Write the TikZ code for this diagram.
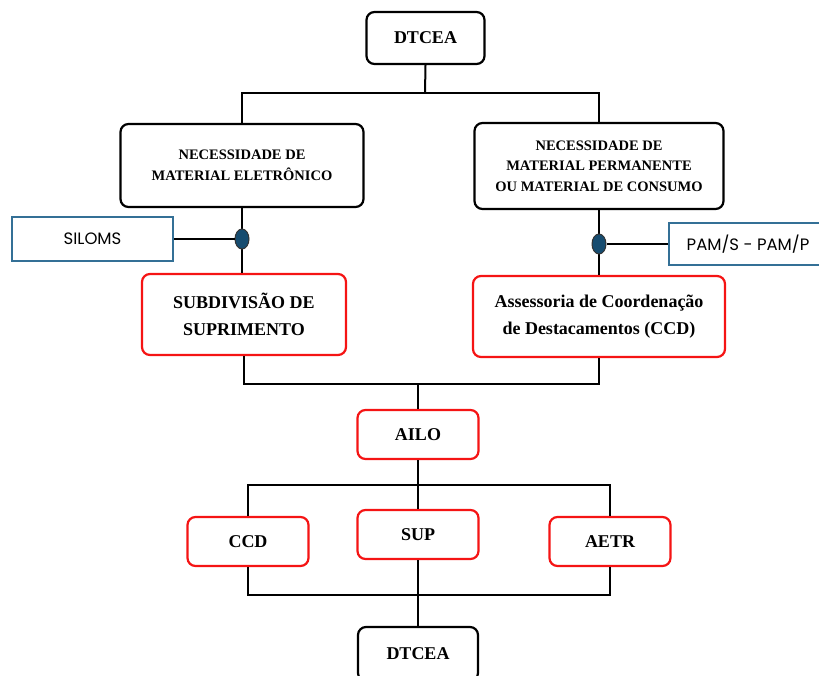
\documentclass[tikz,border=0pt]{standalone}
\usepackage{fontspec}
\setmainfont{Liberation Serif}
\newfontfamily\popfont{Poppins}
\usetikzlibrary{shapes.geometric}
\definecolor{boxred}{RGB}{245,20,20}
\definecolor{boxblue}{RGB}{52,112,150}
\definecolor{dotblue}{RGB}{22,76,112}
\tikzset{
  base/.style={rectangle, rounded corners=8pt, fill=white, inner sep=0pt, align=center, font=\bfseries},
  blackbox/.style={base, draw=black, line width=2.2pt},
  redbox/.style={base, draw=boxred, line width=2.2pt},
  bluebox/.style={rectangle, draw=boxblue, line width=2pt, fill=white, inner sep=0pt, font=\popfont\fontsize{16.5}{18}\selectfont},
  junction/.style={ellipse, draw=black!80, line width=1pt, fill=dotblue, minimum width=14pt, minimum height=20pt, inner sep=0pt},
  link/.style={draw=black, line width=2pt},
  small/.style={font=\bfseries\fontsize{14.5}{20.5}\selectfont},
  big/.style={font=\bfseries\fontsize{18}{27.5}\selectfont}
}
\begin{document}
\begin{tikzpicture}[x=1pt,y=-1pt]
\useasboundingbox (0,0) rectangle (819,675);
% nodes
\node[blackbox, big, minimum width=118pt, minimum height=52pt] (dt1) at (425.5,38) {DTCEA};
\node[blackbox, small, minimum width=243pt, minimum height=83pt] (nec1) at (242,165.5) {NECESSIDADE DE\\MATERIAL ELETRÔNICO};
\node[blackbox, small, minimum width=249pt, minimum height=86pt] (nec2) at (599,166) {NECESSIDADE DE\\MATERIAL PERMANENTE\\OU MATERIAL DE CONSUMO};
\node[bluebox, minimum width=161pt, minimum height=44pt] (siloms) at (92.5,239) {SILOMS};
\node[bluebox, minimum width=158pt, minimum height=42pt] (pam) at (748,244) {PAM/S - PAM/P};
\node[redbox, big, minimum width=204pt, minimum height=81pt] (sub) at (244,314.5) {SUBDIVISÃO DE\\SUPRIMENTO};
\node[redbox, big, minimum width=252pt, minimum height=81pt] (ccdb) at (599,316.5) {Assessoria de Coordenação\\de Destacamentos (CCD)};
\node[redbox, big, minimum width=121pt, minimum height=49pt] (ailo) at (418,434.5) {AILO};
\node[redbox, big, minimum width=121pt, minimum height=49pt] (ccd) at (248,541.5) {CCD};
\node[redbox, big, minimum width=121pt, minimum height=49pt] (sup) at (418,534.5) {SUP};
\node[redbox, big, minimum width=121pt, minimum height=49pt] (aetr) at (610,541.5) {AETR};
\node[blackbox, big, minimum width=120pt, minimum height=54pt] (dt2) at (418,654) {DTCEA};
% junction coordinates
\coordinate (bus1) at (425,93);
\coordinate (bus2) at (418,384);
\coordinate (bus3) at (418,485);
\coordinate (bus4) at (418,595);
% connectors
\draw[link] (dt1.south) -- (bus1);
\draw[link] (nec1.north) |- (bus1) -| (nec2.north);
\draw[link] (nec1.south) -- (sub.north -| nec1.south);
\draw[link] (nec2.south) -- (ccdb.north -| nec2.south);
\draw[link] (sub.south) |- (bus2) -| (ccdb.south);
\draw[link] (bus2) -- (ailo.north);
\draw[link] (ailo.south) -- (sup.north);
\draw[link] (ccd.north) |- (bus3) -| (aetr.north);
\draw[link] (ccd.south) |- (bus4) -| (aetr.south);
\draw[link] (sup.south) -- (dt2.north);
\node[junction] (dot1) at (242,239) {};
\node[junction] (dot2) at (599,244) {};
\draw[link] (siloms.east) -- (siloms.east -| dot1.west);
\draw[link] (pam.west) -- (pam.west -| dot2.east);
\end{tikzpicture}
\end{document}
